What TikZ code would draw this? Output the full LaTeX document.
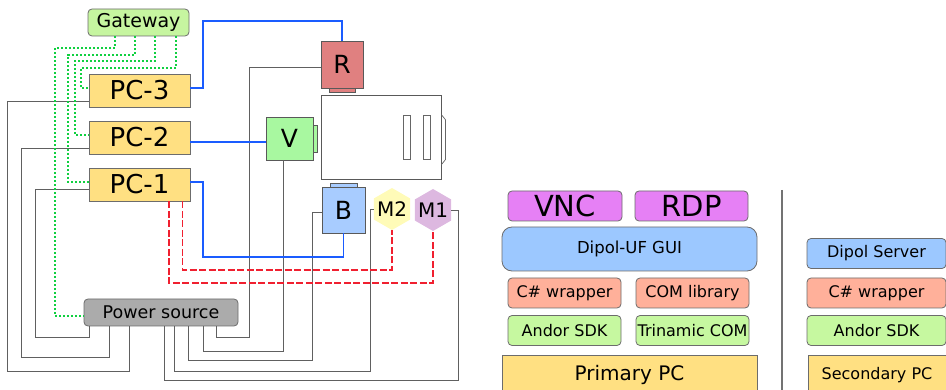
\documentclass[tikz,border=0pt]{standalone}
\usepackage{fontspec}
\setmainfont{DejaVu Sans}
\usetikzlibrary{shapes,positioning}

\begin{document}
\begin{tikzpicture}[
    x=1pt,
    y=-1pt,
    box/.style={rectangle,draw=gray!85!black,line width=0.8pt,inner sep=0pt,minimum width=101pt,minimum height=#1},
    box/.default=33pt,
    rbox/.style={box=#1,rounded corners=4pt},
    rbox/.default=30pt,
    pc node/.style={box,fill=pcyellow,font=\fontsize{26}{30}\selectfont},
    device node/.style={rectangle,draw=gray!70!black,line width=0.9pt,inner sep=0pt,font=\fontsize{25}{28}\selectfont},
    tab node/.style={rectangle,draw=gray!70!black,line width=0.9pt,inner sep=0pt},
    motor node/.style={regular polygon,regular polygon sides=6,regular polygon rotate=30,inner sep=-3.5pt,minimum size=42pt,font=\fontsize{20}{24}\selectfont},
    stack node/.style={rbox,minimum width=113pt,font=\fontsize{16}{18}\selectfont},
    side node/.style={rbox,minimum width=139pt,font=\fontsize{16}{18}\selectfont},
    power wire/.style={draw=gray!75!black,line width=0.9pt},
    usb wire/.style={draw=wireblue,line width=1.5pt},
    step wire/.style={draw=wirered,line width=1.6pt,dash pattern=on 7pt off 2.5pt},
    net wire/.style={draw=wiregreen,line width=1.7pt,dash pattern=on 2pt off 2pt}
]
\definecolor{pcyellow}{HTML}{FFE082}
\definecolor{gatewaygreen}{HTML}{C6F5A0}
\definecolor{sourcegray}{HTML}{ABABAB}
\definecolor{rotred}{HTML}{E08080}
\definecolor{valvegreen}{HTML}{A8F8A0}
\definecolor{blockblue}{HTML}{A8CCFF}
\definecolor{motoryellow}{HTML}{FFFBB8}
\definecolor{motorpurple}{HTML}{DDB8E0}
\definecolor{remotepink}{HTML}{E680F5}
\definecolor{guiblue}{HTML}{9CC8FF}
\definecolor{wrapsalmon}{HTML}{FFB09A}
\definecolor{sdkgreen}{HTML}{C6F8A0}
\definecolor{wireblue}{HTML}{1A5CFF}
\definecolor{wirered}{HTML}{F02030}
\definecolor{wiregreen}{HTML}{10D040}

\useasboundingbox (0,0) rectangle (946,390);

% Computers
\node[rbox=27pt,fill=gatewaygreen,font=\fontsize{19}{22}\selectfont] (gateway) at (138.5,22.5) {Gateway};
\node[pc node] (pc3) at (139.5,90.5) {PC-3};
\node[pc node,below of=pc3,node distance=47pt] (pc2) {PC-2};
\node[pc node,below of=pc2,node distance=47pt] (pc1) {PC-1};
\node[rbox=27pt,minimum width=154pt,fill=sourcegray,font=\fontsize{17.5}{20}\selectfont] (source) at (161,312.5) {Power source};

% Instrument
\node[tab node,fill=rotred,minimum width=26pt,minimum height=8pt] (rtab) at (342,88) {};
\node[device node,fill=rotred,minimum width=42pt,minimum height=47pt] (r) at (342,64.5) {R};
\node[tab node,fill=valvegreen,minimum width=8pt,minimum height=27pt] (vtab) at (313,138.5) {};
\node[device node,fill=valvegreen,minimum width=47pt,minimum height=43pt] (v) at (289.5,138.5) {V};
\node[rectangle,draw=gray!70!black,line width=0.8pt,minimum width=120pt,minimum height=84pt] (body) at (381,137) {};
\node[rectangle,draw=gray!80!black,line width=0.7pt,minimum width=7pt,minimum height=44pt,right=82pt of body.west,anchor=west,inner sep=0pt] (slota) {};
\node[rectangle,draw=gray!80!black,line width=0.7pt,minimum width=7pt,minimum height=44pt,right=102pt of body.west,anchor=west,inner sep=0pt] (slotb) {};
\node[tab node,fill=blockblue,minimum width=27pt,minimum height=8pt] (btab) at (343.5,187) {};
\node[device node,fill=blockblue,minimum width=43pt,minimum height=46pt] (b) at (343.5,210) {B};
\node[motor node,fill=motoryellow] (m2) at (392,209) {M2};
\node[motor node,fill=motorpurple] (m1) at (433,210) {M1};
\draw[gray!80!black,line width=0.7pt] (body.east |- slota.north) -- ++(4,5) -- ++(0,40) -- ++(-4,5);

% Power wires
\draw[power wire] ([yshift=-10.5pt]pc3.west) -| (7,371) -| ([xshift=-32pt]source.south);
\draw[power wire] ([yshift=-10.5pt]pc2.west) -| (21,357) -| ([xshift=-52pt]source.south);
\draw[power wire] ([yshift=-4.5pt]pc1.west) -| (35,337) -| ([xshift=-72pt]source.south);
\draw[power wire] ([yshift=-3pt]r.west) -| (249,337) -| ([xshift=55pt]source.south);
\draw[power wire] ([xshift=-6.5pt]v.south) |- (283,351) -| ([xshift=42pt]source.south);
\draw[power wire] ([yshift=-2pt]b.west) -| (312,360) -| ([xshift=27pt]source.south);
\draw[power wire] (m2.west) -| (370,371) -| ([xshift=13pt]source.south);
\draw[power wire] (m1.east) -| (458,380) -| ([xshift=3.5pt]source.south);

% Step wires
\draw[step wire] ([xshift=42.8pt]pc1.south) -- +(0,68.6) -| (m2.south);
\draw[step wire] ([xshift=29.5pt]pc1.south) -- +(0,81.6) -| (m1.south);

% Signal wires
\draw[usb wire] ([yshift=2.5pt]pc3.east) -| (203,21) -| (r.north);
\draw[usb wire] ([yshift=-4.5pt]pc2.east) -- ([yshift=-3.5pt]v.west);
\draw[usb wire] ([yshift=2.5pt]pc1.east) -| (203,257) -| (b.south);

% Network wires
\draw[net wire] ([xshift=-23.5pt]gateway.south) |- (55,48) |- ([yshift=-3.5pt]source.west);
\draw[net wire] ([xshift=-3.5pt]gateway.south) |- (68,55) |- ([yshift=2.5pt]pc1.west);
\draw[net wire] ([xshift=16.5pt]gateway.south) |- (75,61) |- ([yshift=2.5pt]pc2.west);
\draw[net wire] ([xshift=37.5pt]gateway.south) |- (81,68) |- ([yshift=2.5pt]pc3.west);

% Primary PC stack
\node[rbox,minimum width=114pt,fill=remotepink,font=\fontsize{29}{32}\selectfont] (vnc) at (565,206) {VNC};
\node[rbox,minimum width=113pt,fill=remotepink,font=\fontsize{29}{32}\selectfont] (rdp) at (691.5,206) {RDP};
\node[rbox=44pt,minimum width=255pt,rounded corners=10pt,fill=guiblue,font=\fontsize{16.5}{18}\selectfont] (gui) at (629.5,249) {Dipol-UF GUI};
\node[stack node,fill=wrapsalmon] (wrapa) at (564.5,293) {C\# wrapper};
\node[stack node,fill=wrapsalmon] (comlib) at (692.5,293) {COM library};
\node[stack node,fill=sdkgreen,below of=wrapa,node distance=37.5pt] (sdka) {Andor SDK};
\node[stack node,fill=sdkgreen,below of=comlib,node distance=37.5pt] (trinamic) {Trinamic COM};
\node[box=40pt,minimum width=255pt,fill=pcyellow,font=\fontsize{20}{24}\selectfont] (primary) at (629.5,375) {Primary PC};

% Divider
\draw[gray!90!black,line width=2.5pt] (782,190) -- (782,390);

% Secondary PC stack
\node[side node,fill=guiblue] (server) at (876.5,253.5) {Dipol Server};
\node[side node,fill=wrapsalmon,below of=server,node distance=39.5pt] (wrapb) {C\# wrapper};
\node[side node,fill=sdkgreen,below of=wrapb,node distance=37.5pt] (sdkb) {Andor SDK};
\node[box=40pt,minimum width=138pt,fill=pcyellow,font=\fontsize{16}{18}\selectfont] (secondary) at (877,375) {Secondary PC};

\end{tikzpicture}
\end{document}
